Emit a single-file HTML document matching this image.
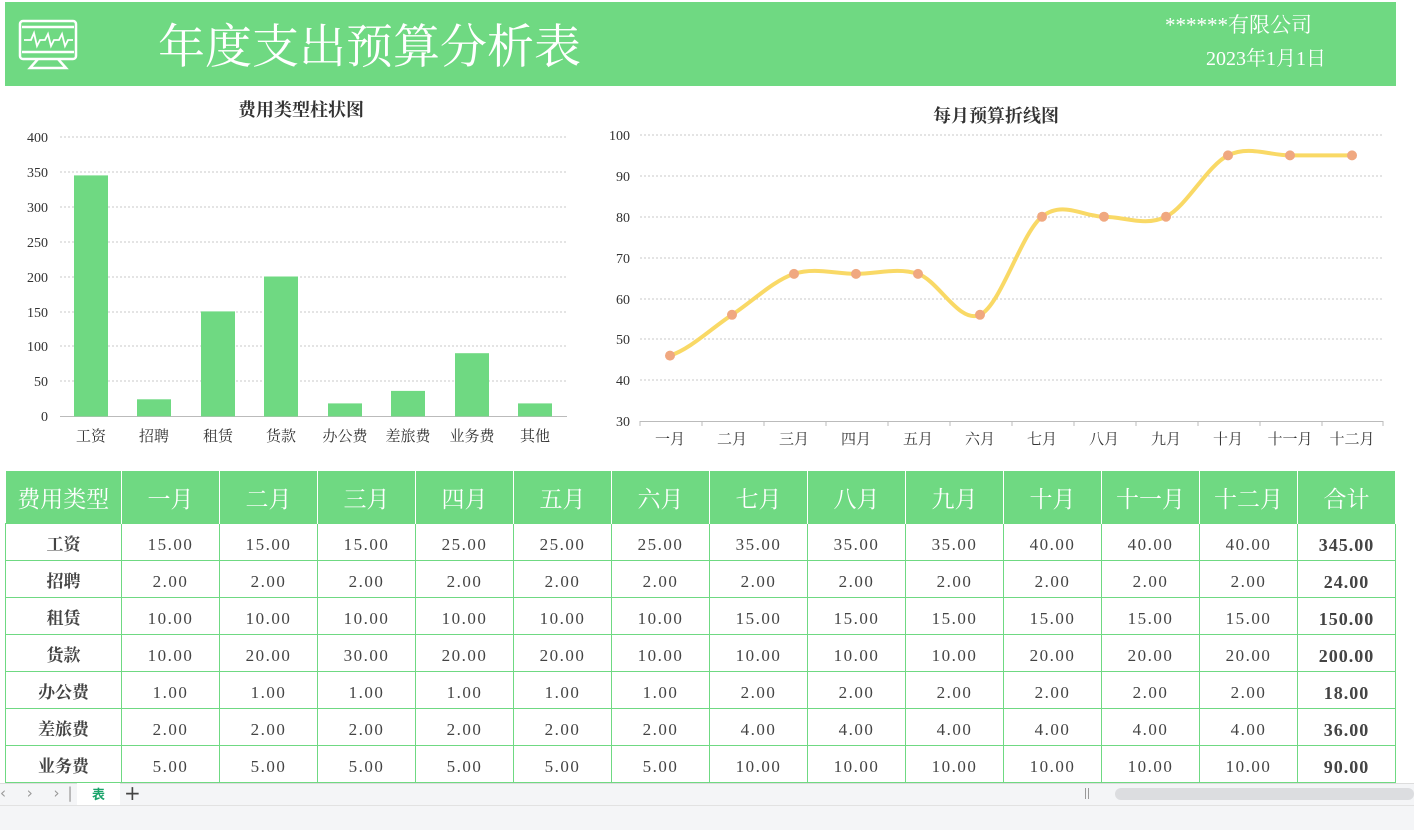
<!DOCTYPE html>
<html><head><meta charset="utf-8"><style>
body{margin:0;width:1414px;height:829px;background:#fff;overflow:hidden;position:relative;font-family:"Liberation Serif","Noto Serif CJK SC",serif;}
.hdr{position:absolute;left:5px;top:2px;width:1391px;height:84px;background:#6fd982;}
table{position:absolute;left:5px;top:471px;border-collapse:collapse;table-layout:fixed;}
td{border:1px solid #6fd982;text-align:center;height:30px;padding:6px 0 0 0;font-size:17px;color:#333;font-family:"Liberation Serif","Noto Serif CJK SC",serif;line-height:30px}
tr.h td{background:#6fd982;color:#fff;height:47px;padding-top:5px;font-size:23px;border-color:#fff;border-top:none;border-bottom:none;line-height:47px}
tr.h td:first-child{border-left:none}
td.n{letter-spacing:1.5px;color:#444}
td.b{font-weight:bold;color:#444}
td.c{font-weight:bold;font-size:18px;letter-spacing:1px;color:#444}
</style></head><body>
<div class="hdr"></div>
<svg style="position:absolute;left:0;top:0" width="1414" height="829">
<g fill="none" stroke="#fff" stroke-width="2.5">
<rect x="20" y="21" width="56" height="38" rx="3"/>
<line x1="22" y1="27" x2="74" y2="27"/><line x1="22" y1="52" x2="74" y2="52"/>
<polyline points="24,40 31,40 34,33 37,46 40,40 45,40 48,34 51,46 54,40 59,40 62,34 65,46 68,40 73,40" stroke-width="1.8"/>
<path d="M38 59 L30 68 L66 68 L58 59"/>
</g>
<text x="158" y="63" fill="#fff" font-size="47" font-family="Noto Serif CJK SC,serif">年度支出预算分析表</text>
<text x="1165" y="32" fill="#fff" font-size="21" font-family="Liberation Serif,Noto Serif CJK SC,serif">******有限公司</text>
<text x="1206" y="65" fill="#fff" font-size="20" font-family="Liberation Serif,Noto Serif CJK SC,serif">2023年1月1日</text>
<g font-family="Liberation Serif,Noto Serif CJK SC,serif" fill="#333">
<text x="301" y="116" font-size="18" font-weight="bold" text-anchor="middle">费用类型柱状图</text>
<text x="996" y="122" font-size="18" font-weight="bold" text-anchor="middle">每月预算折线图</text>
</g>
<g stroke="#c8c8c8" stroke-dasharray="2,2" stroke-width="1">
<line x1="60" x2="567" y1="137" y2="137"/><line x1="60" x2="567" y1="172" y2="172"/><line x1="60" x2="567" y1="207" y2="207"/><line x1="60" x2="567" y1="242" y2="242"/><line x1="60" x2="567" y1="277" y2="277"/><line x1="60" x2="567" y1="312" y2="312"/><line x1="60" x2="567" y1="346" y2="346"/><line x1="60" x2="567" y1="381" y2="381"/>
<line x1="640" x2="1383" y1="135" y2="135"/><line x1="640" x2="1383" y1="176" y2="176"/><line x1="640" x2="1383" y1="217" y2="217"/><line x1="640" x2="1383" y1="258" y2="258"/><line x1="640" x2="1383" y1="299" y2="299"/><line x1="640" x2="1383" y1="339" y2="339"/><line x1="640" x2="1383" y1="380" y2="380"/>
</g>
<line x1="60" x2="567" y1="416.5" y2="416.5" stroke="#bbb"/>
<line x1="640" x2="1383" y1="421.5" y2="421.5" stroke="#bbb"/>
<g stroke="#bbb"><line x1="640" x2="640" y1="421" y2="426"/><line x1="702" x2="702" y1="421" y2="426"/><line x1="764" x2="764" y1="421" y2="426"/><line x1="826" x2="826" y1="421" y2="426"/><line x1="888" x2="888" y1="421" y2="426"/><line x1="950" x2="950" y1="421" y2="426"/><line x1="1012" x2="1012" y1="421" y2="426"/><line x1="1074" x2="1074" y1="421" y2="426"/><line x1="1136" x2="1136" y1="421" y2="426"/><line x1="1198" x2="1198" y1="421" y2="426"/><line x1="1260" x2="1260" y1="421" y2="426"/><line x1="1322" x2="1322" y1="421" y2="426"/><line x1="1383" x2="1383" y1="421" y2="426"/></g>
<g font-size="14" fill="#333" text-anchor="end" font-family="Liberation Serif,serif">
<text x="48" y="142">400</text><text x="48" y="177">350</text><text x="48" y="212">300</text><text x="48" y="247">250</text><text x="48" y="282">200</text><text x="48" y="317">150</text><text x="48" y="351">100</text><text x="48" y="386">50</text><text x="48" y="421">0</text>
<text x="630" y="140">100</text><text x="630" y="181">90</text><text x="630" y="222">80</text><text x="630" y="263">70</text><text x="630" y="304">60</text><text x="630" y="344">50</text><text x="630" y="385">40</text><text x="630" y="426">30</text>
</g>
<g fill="#6fd982">
<rect x="74" y="175.4" width="34" height="241"/><rect x="137" y="399.3" width="34" height="17"/><rect x="201" y="311.4" width="34" height="105"/><rect x="264" y="276.5" width="34" height="140"/><rect x="328" y="403.4" width="34" height="13"/><rect x="391" y="390.9" width="34" height="25.5"/><rect x="455" y="353.2" width="34" height="63.2"/><rect x="518" y="403.4" width="34" height="13"/>
</g>
<g font-size="15" fill="#333" text-anchor="middle" font-family="Noto Serif CJK SC,serif">
<text x="91" y="441">工资</text><text x="154" y="441">招聘</text><text x="218" y="441">租赁</text><text x="281" y="441">货款</text><text x="345" y="441">办公费</text><text x="408" y="441">差旅费</text><text x="472" y="441">业务费</text><text x="535" y="441">其他</text>
<text x="670" y="444">一月</text><text x="732" y="444">二月</text><text x="794" y="444">三月</text><text x="856" y="444">四月</text><text x="918" y="444">五月</text><text x="980" y="444">六月</text><text x="1042" y="444">七月</text><text x="1104" y="444">八月</text><text x="1166" y="444">九月</text><text x="1228" y="444">十月</text><text x="1290" y="444">十一月</text><text x="1352" y="444">十二月</text>
</g>
<path fill="none" stroke="#f9d966" stroke-width="4" stroke-linecap="round" d="M670 355.6 C690.7 348.8,711.3 328.4,732 314.8 C752.7 301.2,773.3 280.7,794 273.9 C814.7 267.1,835.3 273.9,856 273.9 C876.7 273.9,897.3 267.1,918 273.9 C938.7 280.7,959.3 324.3,980 314.8 C1000.7 305.3,1021.3 233.1,1042 216.7 C1062.7 200.3,1083.3 216.7,1104 216.7 C1124.7 216.7,1145.3 226.9,1166 216.7 C1186.7 206.5,1207.3 165.6,1228 155.4 C1248.7 145.2,1269.3 155.4,1290 155.4 C1310.7 155.4,1331.3 155.4,1352 155.4"/>
<g fill="#f0a880">
<circle cx="670" cy="355.6" r="5"/><circle cx="732" cy="314.8" r="5"/><circle cx="794" cy="273.9" r="5"/><circle cx="856" cy="273.9" r="5"/><circle cx="918" cy="273.9" r="5"/><circle cx="980" cy="314.8" r="5"/><circle cx="1042" cy="216.7" r="5"/><circle cx="1104" cy="216.7" r="5"/><circle cx="1166" cy="216.7" r="5"/><circle cx="1228" cy="155.4" r="5"/><circle cx="1290" cy="155.4" r="5"/><circle cx="1352" cy="155.4" r="5"/>
</g>
</svg>
<table>
<colgroup><col style="width:116px"><col style="width:98px"><col style="width:98px"><col style="width:98px"><col style="width:98px"><col style="width:98px"><col style="width:98px"><col style="width:98px"><col style="width:98px"><col style="width:98px"><col style="width:98px"><col style="width:98px"><col style="width:98px"><col style="width:98px"></colgroup>
<tr class="h"><td>费用类型</td><td>一月</td><td>二月</td><td>三月</td><td>四月</td><td>五月</td><td>六月</td><td>七月</td><td>八月</td><td>九月</td><td>十月</td><td>十一月</td><td>十二月</td><td>合计</td></tr>
<tr><td class="b">工资</td><td class="n">15.00</td><td class="n">15.00</td><td class="n">15.00</td><td class="n">25.00</td><td class="n">25.00</td><td class="n">25.00</td><td class="n">35.00</td><td class="n">35.00</td><td class="n">35.00</td><td class="n">40.00</td><td class="n">40.00</td><td class="n">40.00</td><td class="c">345.00</td></tr>
<tr><td class="b">招聘</td><td class="n">2.00</td><td class="n">2.00</td><td class="n">2.00</td><td class="n">2.00</td><td class="n">2.00</td><td class="n">2.00</td><td class="n">2.00</td><td class="n">2.00</td><td class="n">2.00</td><td class="n">2.00</td><td class="n">2.00</td><td class="n">2.00</td><td class="c">24.00</td></tr>
<tr><td class="b">租赁</td><td class="n">10.00</td><td class="n">10.00</td><td class="n">10.00</td><td class="n">10.00</td><td class="n">10.00</td><td class="n">10.00</td><td class="n">15.00</td><td class="n">15.00</td><td class="n">15.00</td><td class="n">15.00</td><td class="n">15.00</td><td class="n">15.00</td><td class="c">150.00</td></tr>
<tr><td class="b">货款</td><td class="n">10.00</td><td class="n">20.00</td><td class="n">30.00</td><td class="n">20.00</td><td class="n">20.00</td><td class="n">10.00</td><td class="n">10.00</td><td class="n">10.00</td><td class="n">10.00</td><td class="n">20.00</td><td class="n">20.00</td><td class="n">20.00</td><td class="c">200.00</td></tr>
<tr><td class="b">办公费</td><td class="n">1.00</td><td class="n">1.00</td><td class="n">1.00</td><td class="n">1.00</td><td class="n">1.00</td><td class="n">1.00</td><td class="n">2.00</td><td class="n">2.00</td><td class="n">2.00</td><td class="n">2.00</td><td class="n">2.00</td><td class="n">2.00</td><td class="c">18.00</td></tr>
<tr><td class="b">差旅费</td><td class="n">2.00</td><td class="n">2.00</td><td class="n">2.00</td><td class="n">2.00</td><td class="n">2.00</td><td class="n">2.00</td><td class="n">4.00</td><td class="n">4.00</td><td class="n">4.00</td><td class="n">4.00</td><td class="n">4.00</td><td class="n">4.00</td><td class="c">36.00</td></tr>
<tr><td class="b">业务费</td><td class="n">5.00</td><td class="n">5.00</td><td class="n">5.00</td><td class="n">5.00</td><td class="n">5.00</td><td class="n">5.00</td><td class="n">10.00</td><td class="n">10.00</td><td class="n">10.00</td><td class="n">10.00</td><td class="n">10.00</td><td class="n">10.00</td><td class="c">90.00</td></tr>
</table>
<div style="position:absolute;left:0;top:783px;width:1414px;height:46px;background:#f4f5f7;border-top:1px solid #ddd"></div>
<div style="position:absolute;left:0;top:805px;width:1414px;height:1px;background:#e2e2e2"></div>
<div style="position:absolute;left:77px;top:783px;width:43px;height:22px;background:#fff;color:#1aa36a;font-size:13px;text-align:center;line-height:22px;font-weight:bold;font-family:'Noto Sans CJK SC',sans-serif">表</div>
<div style="position:absolute;left:0;top:784px;font-size:15px;color:#999;font-family:'DejaVu Sans',sans-serif;letter-spacing:8px">‹ › ›|</div>
<div style="position:absolute;left:124px;top:781px;font-size:20px;color:#444;font-family:'DejaVu Sans',sans-serif">+</div>
<div style="position:absolute;left:1115px;top:788px;width:299px;height:12px;background:#dcdde0;border-radius:6px"></div>
<div style="position:absolute;left:1085px;top:788px;width:2px;height:11px;border-left:1px solid #999;border-right:1px solid #999"></div>
</body></html>
